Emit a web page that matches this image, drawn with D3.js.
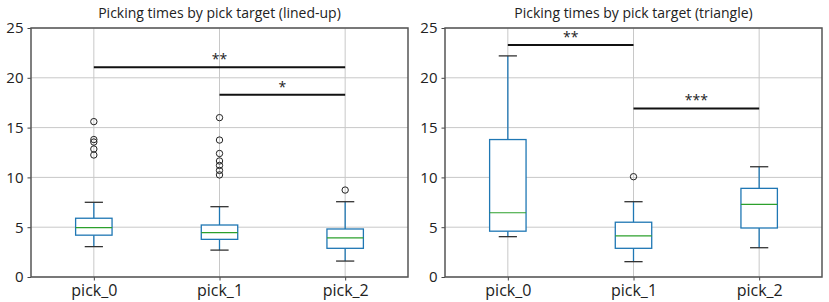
<!DOCTYPE html>
<html><head><meta charset="utf-8">
<script src="https://cdn.jsdelivr.net/npm/d3@7"></script>
<style>body{margin:0;background:#fff}svg{display:block}text{font-family:"Open Sans","Noto Sans",sans-serif}</style>
</head><body><svg id="c" width="829" height="302"></svg>
<script>
const categories = ["pick_0", "pick_1", "pick_2"];
const yTicks = [0, 5, 10, 15, 20, 25];
const titles = ["Picking times by pick target (lined-up)", "Picking times by pick target (triangle)"];

// Panel 1 (lined-up)
const lin_q1 = [4.2, 3.78, 2.88];
const lin_median = [4.95, 4.45, 3.92];
const lin_q3 = [5.9, 5.22, 4.82];
const lin_whiskLo = [3.05, 2.7, 1.6];
const lin_whiskHi = [7.5, 7.06, 7.56];
const lin_outliers = [[15.6, 13.8, 13.55, 12.85, 12.25], [16.0, 13.75, 12.4, 11.65, 11.2, 10.7, 10.25], [8.73]];
const lin_sig = [{from: "pick_0", to: "pick_2", y: 21.05, label: "**"}, {from: "pick_1", to: "pick_2", y: 18.3, label: "*"}];

// Panel 2 (triangle)
const tri_q1 = [4.6, 2.88, 4.92];
const tri_median = [6.45, 4.12, 7.3];
const tri_q3 = [13.8, 5.5, 8.9];
const tri_whiskLo = [4.05, 1.54, 2.94];
const tri_whiskHi = [22.2, 7.56, 11.07];
const tri_outliers = [[], [10.07], []];
const tri_sig = [{from: "pick_0", to: "pick_1", y: 23.3, label: "**"}, {from: "pick_1", to: "pick_2", y: 16.93, label: "***"}];

const panels = [
  {left: 31, right: 408, title: titles[0], q1: lin_q1, med: lin_median, q3: lin_q3, lo: lin_whiskLo, hi: lin_whiskHi, out: lin_outliers, sig: lin_sig},
  {left: 445, right: 822, title: titles[1], q1: tri_q1, med: tri_median, q3: tri_q3, lo: tri_whiskLo, hi: tri_whiskHi, out: tri_outliers, sig: tri_sig}
];
const plotTop = 28, plotBottom = 277;
const svg = d3.select("#c");
const C0 = "#1f77b4", C2 = "#2ca02c";

panels.forEach(p => {
  const x = d3.scalePoint().domain(categories).range([p.left, p.right]).padding(0.5);
  const y = d3.scaleLinear().domain([0, 25]).range([plotBottom, plotTop]);
  const g = svg.append("g");
  const step = x.step();
  const bw = step * 0.29, cw = bw / 2;

  g.selectAll(".gy").data(yTicks).join("line").attr("x1", p.left).attr("x2", p.right)
    .attr("y1", d => y(d)).attr("y2", d => y(d)).attr("stroke", "#c8c8c8").attr("stroke-width", 1);
  g.selectAll(".gx").data(categories).join("line").attr("x1", d => x(d)).attr("x2", d => x(d))
    .attr("y1", plotTop).attr("y2", plotBottom).attr("stroke", "#c8c8c8").attr("stroke-width", 1);

  const ya = g.append("g").attr("transform", `translate(${p.left},0)`).call(d3.axisLeft(y).tickValues(yTicks).tickSize(3.5).tickPadding(4));
  const xa = g.append("g").attr("transform", `translate(0,${plotBottom})`).call(d3.axisBottom(x).tickSize(3.5).tickPadding(4));
  [ya, xa].forEach(a => { a.select(".domain").remove(); a.selectAll("line").attr("stroke", "#444"); a.selectAll("text").attr("fill", "#222"); });
  ya.selectAll("text").style("font-size", "15px");
  xa.selectAll("text").style("font-size", "16px");

  g.append("rect").attr("x", p.left).attr("y", plotTop).attr("width", p.right - p.left).attr("height", plotBottom - plotTop)
    .attr("fill", "none").attr("stroke", "#555").attr("stroke-width", 1.5);

  g.append("text").attr("x", (p.left + p.right) / 2).attr("y", 18).attr("text-anchor", "middle")
    .style("font-size", "14px").attr("fill", "#222").text(p.title);

  categories.forEach((c, i) => {
    const cx = x(c);
    g.append("line").attr("x1", cx).attr("x2", cx).attr("y1", y(p.lo[i])).attr("y2", y(p.q1[i])).attr("stroke", C0).attr("stroke-width", 1.3);
    g.append("line").attr("x1", cx).attr("x2", cx).attr("y1", y(p.q3[i])).attr("y2", y(p.hi[i])).attr("stroke", C0).attr("stroke-width", 1.3);
    [p.lo[i], p.hi[i]].forEach(v => g.append("line").attr("x1", cx - cw / 2).attr("x2", cx + cw / 2)
      .attr("y1", y(v)).attr("y2", y(v)).attr("stroke", "#333").attr("stroke-width", 1.3));
    g.append("rect").attr("x", cx - bw / 2).attr("width", bw).attr("y", y(p.q3[i])).attr("height", y(p.q1[i]) - y(p.q3[i]))
      .attr("fill", "#fff").attr("stroke", C0).attr("stroke-width", 1.3);
    g.append("line").attr("x1", cx - bw / 2).attr("x2", cx + bw / 2).attr("y1", y(p.med[i])).attr("y2", y(p.med[i]))
      .attr("stroke", C2).attr("stroke-width", 1.2);
    g.selectAll(null).data(p.out[i]).join("circle").attr("cx", cx).attr("cy", d => y(d)).attr("r", 3.2)
      .attr("fill", "none").attr("stroke", "#222").attr("stroke-width", 1);
  });

  p.sig.forEach(s => {
    g.append("line").attr("x1", x(s.from)).attr("x2", x(s.to)).attr("y1", y(s.y)).attr("y2", y(s.y))
      .attr("stroke", "#111").attr("stroke-width", 2);
    g.append("text").attr("x", (x(s.from) + x(s.to)) / 2).attr("y", y(s.y) - 3).attr("text-anchor", "middle")
      .style("font-size", "14px").attr("fill", "#222").text(s.label);
  });
});
</script></body></html>
